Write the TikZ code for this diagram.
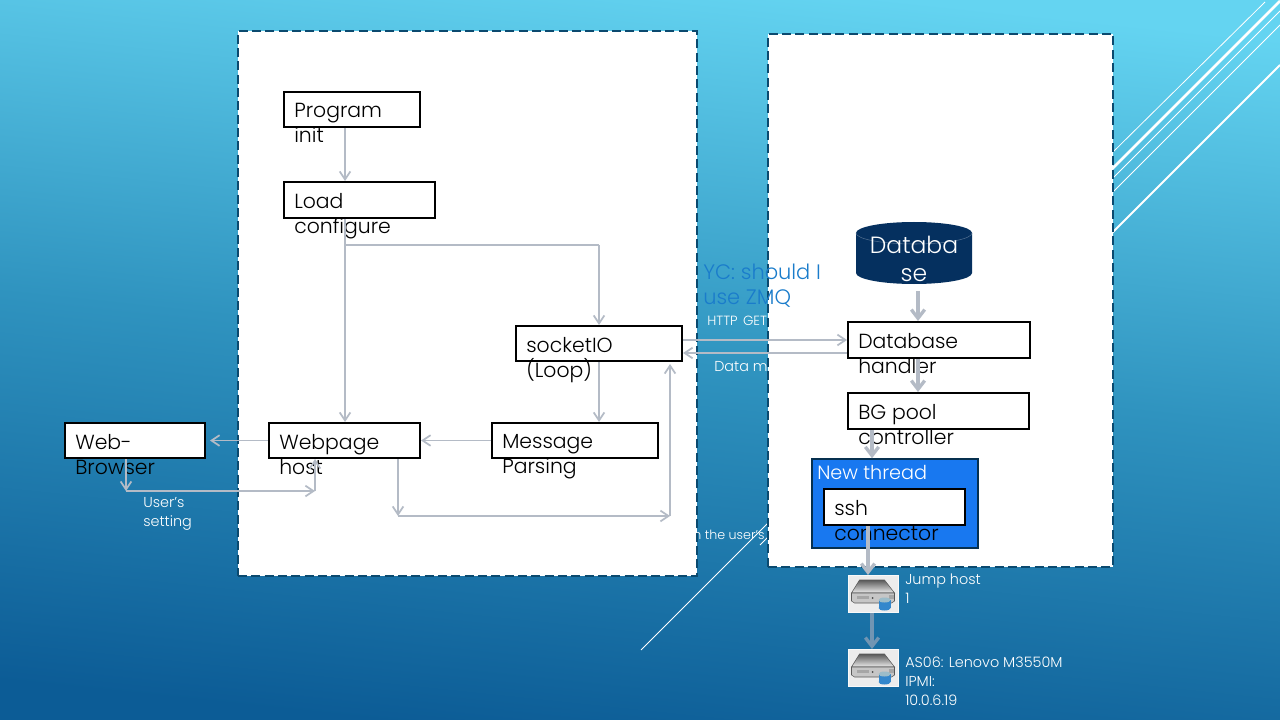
\documentclass[tikz,border=0pt]{standalone}
\usepackage{fontspec}
\setmainfont{Poppins Light}
\usetikzlibrary{arrows.meta,shapes.geometric}
\definecolor{grayline}{HTML}{B4BBC6}
\definecolor{dashc}{HTML}{0B4A6F}
\definecolor{dbfill}{HTML}{05305F}
\definecolor{ycblue}{HTML}{1A7CCB}
\definecolor{threadblue}{HTML}{1878F0}
\definecolor{threadline}{HTML}{06304F}
\definecolor{bgtop}{HTML}{64D4F1}
\definecolor{bgmid}{HTML}{2F93BF}
\definecolor{bgbot}{HTML}{0C5C96}
\tikzset{
  x=0.75pt,y=-0.75pt,
  pane/.style={draw=dashc,fill=white,line width=1.4pt,dash pattern=on 6.7pt off 3.3pt},
  bx/.style={draw=black,fill=white,line width=1.5pt,inner sep=0pt},
  boxtxt/.style={font=\fontsize{15.3}{18.9}\selectfont,text=black,align=left,inner sep=0pt,anchor=north west},
  small/.style={font=\fontsize{10.8}{14.2}\selectfont,text=white,align=left,inner sep=0pt,anchor=north west},
  smaller/.style={small,font=\fontsize{10}{14}\selectfont},
  thin arrow/.style={draw=grayline,line width=1.3pt,-{Straight Barb[length=6pt,width=8pt,line width=1.3pt]}},
  thin line/.style={draw=grayline,line width=1.3pt},
  thick arrow/.style={draw=grayline,line width=2.5pt,-{Straight Barb[length=6.5pt,width=10pt,line width=2.5pt]}},
  deco/.style={draw=white,line cap=butt},
}
\newcommand{\bxnode}[6]{%
  \node[bx,minimum width={(#4-#2)*0.75pt},minimum height={(#5-#3)*0.75pt}] (#1) at ({(#2+#4)/2},{(#3+#5)/2}) {};
  \node[boxtxt] (#1t) at (#2+10,#3+11) {#6};
}
\newcommand{\servericon}[3]{%
  \node[fill=#3,draw=white!70!#3,line width=.5pt,inner sep=0pt,minimum width=37.5pt,minimum height=28pt,anchor=north west] (#1) at (#2) {};
  \begin{scope}[shift={(#2)}]
    \shade[top color=gray!70!black,bottom color=gray!15!white,draw=gray!70!black,line width=.4pt] (4,18)--(12,5)--(37,5)--(47,18)--cycle;
    \fill[gray!45!white,draw=gray!70!black,line width=.4pt] (4,18)--(47,18)--(47,26)--(44,28)--(7,28)--(4,26)--cycle;
    \fill[gray!70!white] (9,21) rectangle (21,24);
    \fill[black!70] (25,23) circle (1);
    \fill[gray!70!white] (41,20) rectangle (46,24);
    \fill[blue!45!cyan!60!gray] (31,25) rectangle (43,33);
    \fill[blue!45!cyan!60!gray] (37,33) ellipse (6 and 2.5);
    \fill[cyan!35!gray!70!white] (37,25) ellipse (6 and 2.5);
  \end{scope}
}
\begin{document}
\begin{tikzpicture}
\useasboundingbox (0,0) rectangle (1280,720);
\shade[top color=bgtop,bottom color=bgbot,middle color=bgmid,shading angle=-6] (0,0) rectangle (1280,720);
% background motif
\draw[deco,line width=.6pt] (1113,152) -- (1265,2);
\draw[deco,line width=1.9pt] (1100,181) -- (1280,1);
\draw[deco,line width=.6pt] (641,650) -- (1280,11);
\draw[deco,line width=.6pt] (760,545) -- (1280,25);
\draw[deco,line width=1.5pt] (1100,245) -- (1280,65);
% labels partly covered by panes
\node[smaller] (httpget) at (707,316) {HTTP\hspace{4pt}GET};
\node[small] (datam) at (714,361) {Data m};
\node[smaller,font=\fontsize{9.5}{14}\selectfont] (usersett) at (693,530) {n the user's s};
% panes
\node[pane,minimum width=344.25pt,minimum height=408.75pt,inner sep=0pt] (left) at (467.5,303.5) {};
\node[pane,minimum width=258.75pt,minimum height=399.75pt,inner sep=0pt] (right) at (940.5,300.5) {};
% boxes
\bxnode{prog}{284}{92}{420}{127}{Program\\init}
\bxnode{load}{284}{182}{435}{218}{Load\\configure}
\bxnode{sock}{516}{326}{682}{361}{socketIO\\(Loop)}
\bxnode{msg}{492}{423}{658}{458}{Message\\Parsing}
\bxnode{web}{269}{423}{420}{458}{Webpage\\host}
\bxnode{brow}{65}{423}{205}{458}{Web-\\Browser}
\bxnode{dbh}{848}{322}{1030}{358}{Database\\handler}
\bxnode{bg}{848}{393}{1029}{429}{BG pool\\controller}
% thread
\node[draw=threadline,fill=threadblue,line width=1.1pt,minimum width=124.5pt,minimum height=66.75pt,inner sep=0pt] (thread) at (895,503.5) {};
\node[boxtxt,text=white,font=\fontsize{14.4}{17}\selectfont] (threadt) at (817,465) {New thread};
\bxnode{ssh}{824}{489}{965}{525}{ssh\\connector}
% database
\node[inner sep=0pt,minimum width=87pt,minimum height=46.5pt] (db) at (914,253) {};
\fill[dbfill] (856,233) arc[start angle=180,end angle=360,x radius=58,y radius=11] -- (972,273) arc[start angle=0,end angle=180,x radius=58,y radius=11] -- cycle;
\draw[dbfill!70!white,line width=.4pt] (856,233) arc[start angle=180,end angle=0,x radius=58,y radius=11];
\node[font=\fontsize{17.6}{21.5}\selectfont,text=white,align=center,inner sep=0pt] (dbt) at (914,259) {Databa\\se};
% YC note
\node[anchor=north west,inner sep=0pt,font=\fontsize{15.7}{18.2}\selectfont,text=ycblue,align=left] (yc) at (703,264) {YC: should I\\use ZMQ};
% servers
\servericon{jump}{847.5,575}{gray!15!white}
\servericon{as}{847.5,649}{gray!15!white}
\node[small] (jumpt) at (905,574) {Jump host\\1};
\node[small] (ast) at (905,657) {AS06: Lenovo M3550M\\IPMI:\\10.0.6.19};
\node[small] (userst) at (143,497) {User's\\setting};
% connector junctions
\coordinate (j1) at (345,245);
\coordinate (j2) at (599,245);
\coordinate (j3) at (126,491);
\coordinate (j4) at (315,491);
\coordinate (j5) at (398,516);
\coordinate (j6) at (670,516);
% connectors
\draw[thin arrow] (prog.south -| 345,0) -- (load.north -| 345,0);
\draw[thin arrow] (load.south -| 345,0) -- (web.north -| 345,0);
\draw[thin line] (j1) -- (j2);
\draw[thin arrow] (j2) -- (sock.north -| j2);
\draw[thin arrow] (sock.south -| j2) -- (msg.north -| j2);
\draw[thin arrow] (msg.west) -- (web.east);
\draw[thin arrow] (web.west) -- ([xshift=3pt]brow.east);
\draw[thin arrow] (brow.south -| j3) -- (j3);
\draw[thin arrow] (j3) -- (j4);
\draw[thin arrow] (j4) -- (web.south -| j4);
\draw[thin arrow] (web.south -| j5) -- (j5);
\draw[thin arrow] (j5) -- (j6);
\draw[thin arrow] (j6) -- ([yshift=-1.5pt]sock.south -| j6);
\draw[thin arrow] ([yshift=2.6pt]sock.east) -- (dbh.west);
\draw[thin arrow] ([yshift=-9.75pt]dbh.west) -- ([yshift=-9.75pt]dbh.west -| sock.east);
\draw[thick arrow] (918,291) -- (dbh.north -| 918,0);
\draw[thick arrow] (dbh.south -| 918,0) -- (bg.north -| 918,0);
\draw[thick arrow] (bg.south -| 872,0) -- (thread.north -| 872,0);
\draw[thick arrow] (ssh.south -| 868,0) -- (jump.north -| 868,0);
\draw[draw=grayline!60!bgbot,line width=2.5pt,-{Straight Barb[length=6.5pt,width=10pt,line width=2.5pt]}] (jump.south -| 872,0) -- (as.north -| 872,0);
\end{tikzpicture}
\end{document}
